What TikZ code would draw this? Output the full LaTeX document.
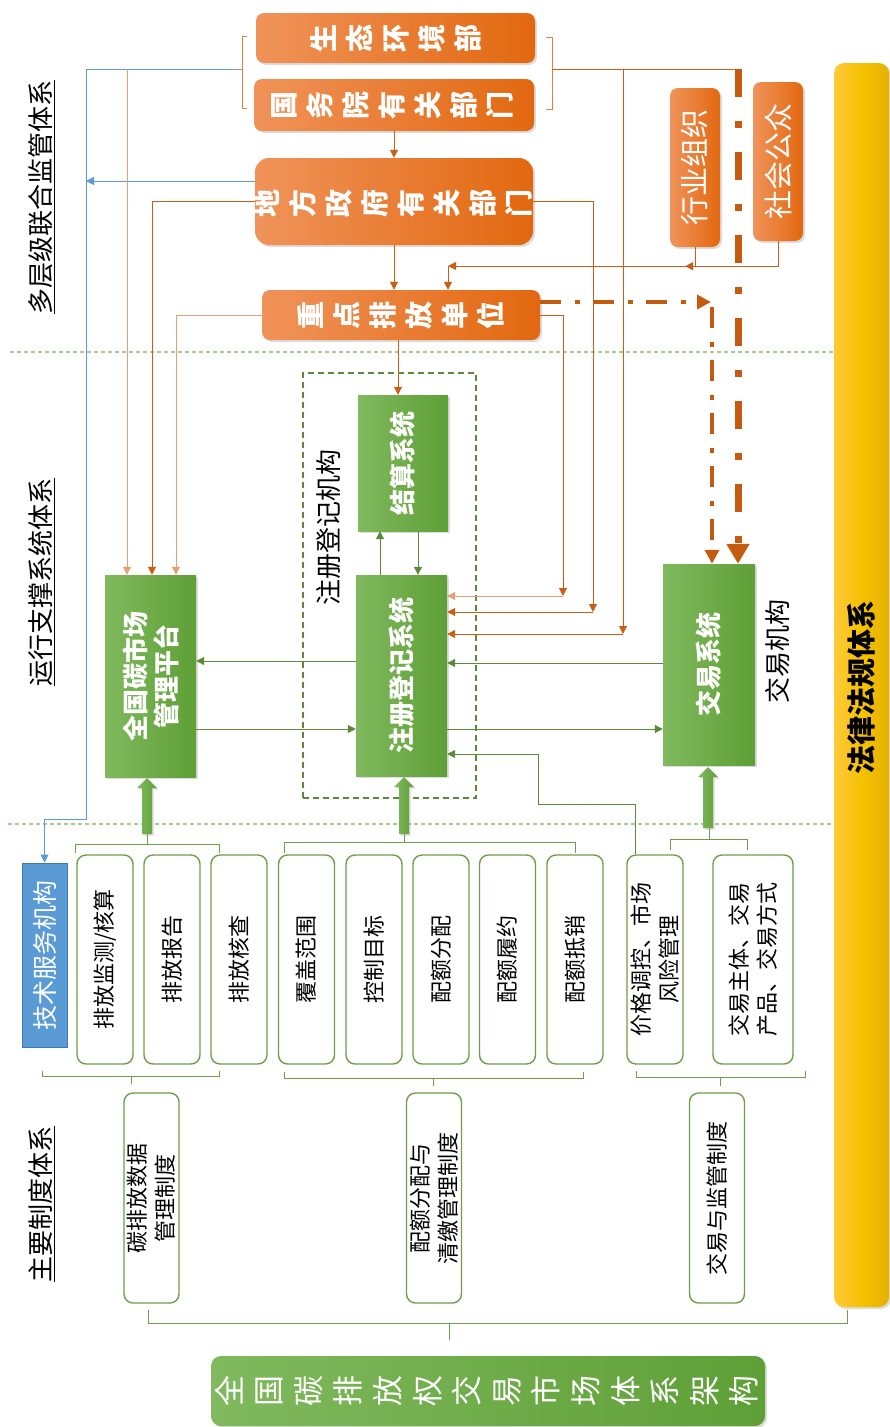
\documentclass[tikz,border=0pt]{standalone}
\usepackage{fontspec}
\setmainfont{Noto Sans CJK SC}
\usetikzlibrary{arrows.meta,shadows,calc}
\definecolor{orgL}{HTML}{F0935A}
\definecolor{orgR}{HTML}{E2680F}
\definecolor{grnL}{HTML}{80B95E}
\definecolor{grnR}{HTML}{5E9F36}
\definecolor{lnOr}{HTML}{C95F17}
\definecolor{lnOrL}{HTML}{E3A079}
\definecolor{lnBr}{HTML}{D7834A}
\definecolor{lnBl}{HTML}{5B9BD5}
\definecolor{lnGr}{HTML}{5A8A3A}
\definecolor{brGr}{HTML}{6E9E47}
\definecolor{sepGr}{HTML}{A9C993}
\definecolor{yelL}{HTML}{FFCA3A}
\definecolor{yelM}{HTML}{F6C100}
\definecolor{yelR}{HTML}{E5B100}
\definecolor{techBl}{HTML}{5B9BD5}
\definecolor{techBd}{HTML}{4178B0}
\definecolor{ddOr}{HTML}{C55A11}
\newcommand{\fs}[2]{\fontsize{#1}{#2}\selectfont}
\newcommand{\blkarrow}[3]{%
  \path[left color=grnL,right color=grnR,drop shadow={shadow xshift=1.5pt,shadow yshift=-1.5pt,opacity=0.3}]
  ({#1-5},#2) -- ({#1-5},{#3+10}) -- ({#1-10},{#3+10}) -- (#1,#3) -- ({#1+10},{#3+10}) -- ({#1+5},{#3+10}) -- ({#1+5},#2) -- cycle;}
\begin{document}
\begin{tikzpicture}[x=1pt,y=-1pt,
  shad/.style={drop shadow={shadow xshift=2pt,shadow yshift=-2pt,opacity=0.28}},
  orgbox/.style={shad,rounded corners=8pt,left color=orgL,right color=orgR,inner sep=0pt},
  grnbox/.style={shad,left color=grnL,right color=grnR,inner sep=0pt},
  wbox/.style={draw=brGr,line width=1.4pt,fill=white,rounded corners=9pt,inner sep=0pt,minimum width=56pt,minimum height=209pt},
  cbox/.style={wbox,minimum width=55pt,minimum height=210pt},
  vtxt/.style={rotate=90,inner sep=0pt,align=center},
  otxt/.style={vtxt,text=white,font=\fs{28}{36}\bfseries},
  gtxt/.style={vtxt,text=white,font=\fs{26}{31}\bfseries},
  btxt/.style={vtxt,text=black,font=\fs{22}{28}},
  sectxt/.style={vtxt,text=black,font=\fs{26}{30}},
  oln/.style={draw=lnOr,line width=1pt},
  olnL/.style={draw=lnOrL,line width=1pt},
  tip/.style={-{Triangle[length=8pt,width=8pt]}},
  oarr/.style={oln,tip},
  oarrL/.style={olnL,tip},
  garr/.style={draw=lnGr,line width=1pt,tip},
  barr/.style={draw=lnBl,line width=1pt,tip},
  brk/.style={draw=brGr,line width=1pt},
  obrk/.style={draw=lnBr,line width=1pt},
  ddA/.style={draw=ddOr,line width=4pt,dash pattern=on 21pt off 14pt on 5pt off 13pt,-{Triangle[length=14pt,width=14pt]}},
  ddB/.style={draw=ddOr,line width=7pt,dash pattern=on 28pt off 24pt on 7pt off 24pt,-{Triangle[length=20pt,width=22pt]}},
]
\useasboundingbox (0,0) rectangle (890,1427);
% separators
\draw[sepGr,line width=1.2pt,dash pattern=on 4pt off 3pt] (10,352) -- (834,352);
\draw[sepGr,line width=1.2pt,dash pattern=on 4pt off 3pt] (8,824) -- (834,824);
% law bar
\node[shad,rounded corners=10pt,left color=yelL,right color=yelR,middle color=yelM,minimum width=55pt,minimum height=1244pt,inner sep=0pt] (law) at (861.5,685) {};
\node[vtxt,font=\fs{29}{34}\bfseries] at ($(law)+(0,2)$) {法律法规体系};
% registry frame
\node[draw=lnGr,line width=1.3pt,dash pattern=on 6pt off 4pt,minimum width=173pt,minimum height=425pt,inner sep=0pt] (zcjg) at (389.5,585.5) {};
% orange boxes
\node[orgbox,minimum width=279pt,minimum height=50pt] (st) at (395.5,38) {};
\node[orgbox,minimum width=280pt,minimum height=52pt] (gw) at (394,105) {};
\node[orgbox,rounded corners=14pt,minimum width=278pt,minimum height=87pt] (df) at (394,201.5) {};
\node[orgbox,minimum width=278pt,minimum height=50pt] (zd) at (401,315) {};
\node[orgbox,minimum width=50pt,minimum height=159pt] (hy) at (695,167.5) {};
\node[orgbox,minimum width=50pt,minimum height=159pt] (sh) at (778,161.5) {};
\node[otxt] at (st) {生\\态\\环\\境\\部};
\node[otxt] at ($(gw)+(-2,0)$) {国\\务\\院\\有\\关\\部\\门};
\node[otxt] at ($(df)+(-1.5,1.5)$) {地\\方\\政\\府\\有\\关\\部\\门};
\node[otxt] at (zd) {重\\点\\排\\放\\单\\位};
\node[vtxt,text=white,font=\fs{29}{34}] at (hy) {行业组织};
\node[vtxt,text=white,font=\fs{29}{34}] at (sh) {社会公众};
% green boxes
\node[grnbox,minimum width=90pt,minimum height=136pt] (js) at (403,463) {};
\node[grnbox,minimum width=91pt,minimum height=201pt] (zc) at (401.5,675.5) {};
\node[grnbox,minimum width=91pt,minimum height=202pt] (qg) at (150.5,676) {};
\node[grnbox,minimum width=92pt,minimum height=201pt] (jy) at (709,664.5) {};
\node[gtxt] at (js) {结算系统};
\node[gtxt] at (zc) {注册登记系统};
\node[gtxt] at (qg) {全国碳市场\\管理平台};
\node[gtxt] at (jy) {交易系统};
% labels
\node[sectxt] (s1) at (42,197) {\underline{多层级联合监管体系}};
\node[sectxt] (s2) at (42,582) {\underline{运行支撑系统体系}};
\node[sectxt] (s3) at (42,1204) {\underline{主要制度体系}};
\node[sectxt] (lzc) at (329,527) {注册登记机构};
\node[sectxt] (ljy) at (778,651) {交易机构};
% tech box
\node[draw=techBd,line width=1pt,fill=techBl,minimum width=45pt,minimum height=184pt,inner sep=0pt] (tech) at (44.5,955) {};
\node[vtxt,text=white,font=\fs{25}{30}] at (tech) {技术服务机构};
% white boxes
\node[wbox] (b1) at (105,959.5) {};
\node[wbox] (b2) at (172,959.5) {};
\node[wbox] (b3) at (239,959.5) {};
\node[wbox] (b4) at (306.5,959.5) {};
\node[wbox] (b5) at (374,959.5) {};
\node[wbox] (b6) at (441,959.5) {};
\node[wbox] (b7) at (507.5,959.5) {};
\node[wbox] (b8) at (575,959.5) {};
\node[wbox] (b9) at (655,959.5) {};
\node[wbox,minimum width=80pt] (b10) at (753,959.5) {};
\node[btxt] at (b1) {排放监测/核算};
\node[btxt] at (b2) {排放报告};
\node[btxt] at (b3) {排放核查};
\node[btxt] at (b4) {覆盖范围};
\node[btxt] at (b5) {控制目标};
\node[btxt] at (b6) {配额分配};
\node[btxt] at (b7) {配额履约};
\node[btxt] at (b8) {配额抵销};
\node[btxt] at (b9) {价格调控、市场\\风险管理};
\node[btxt,align=left] at (b10) {交易主体、交易\\产品、交易方式};
\node[cbox] (c1) at (151.5,1198) {};
\node[cbox] (c2) at (434,1198) {};
\node[cbox] (c3) at (717,1198) {};
\node[btxt] at (c1) {碳排放数据\\管理制度};
\node[btxt] at (c2) {配额分配与\\清缴管理制度};
\node[btxt] at (c3) {交易与监管制度};
% title
\node[shad,rounded corners=10pt,left color=grnL,right color=grnR,minimum width=554pt,minimum height=70pt,inner sep=0pt] (ttl) at (488,1391) {};
\node[vtxt,text=white,font=\fs{31}{39.6}] at ($(ttl)+(-1.5,0)$) {全\\国\\碳\\排\\放\\权\\交\\易\\市\\场\\体\\系\\架\\构};
% coordinates
\coordinate (bl) at (236,69);
\coordinate (bv) at (86,819);
\coordinate (o1) at (127,69);
\coordinate (tr) at (738,69);
\coordinate (o3) at (623,69);
\coordinate (k1) at (563,596);
\coordinate (k2) at (593,612);
\coordinate (k3) at (623,634);
\coordinate (m1) at (448,266);
\coordinate (d1) at (711,302);
\coordinate (d2) at (712,307);
\coordinate (g2) at (538,754);
% orange braces
\draw[obrk] (247,36) -- (242,36) -- (242,108) -- (247,108) (242,69) -- (bl);
\draw[obrk] (546,37) -- (552,37) -- (552,109) -- (546,109);
\draw[oln] (552,69) -- (tr);
% blue lines
\draw[barr] (bl) -| (bv) -| (tech.north);
\path ($(df.west)+(0,-20.5)$) coordinate (dfb);
\draw[barr] (dfb) -- (dfb -| bv);
% orange vertical chain
\draw[oarr] (gw.south) -- (df.north);
\draw[oarr] (df.south) -- (df.south |- zd.north);
\path ($(js.north)+(-5,0)$) coordinate (jsn);
\draw[oarr] (jsn |- zd.south) -- (jsn);
% orange to national platform
\draw[oarrL] (o1) -- (o1 |- qg.north);
\draw[oarr] (df.west) -| ($(qg.north)+(1.5,0)$);
\draw[oarrL] (zd.west) -| ($(qg.north)+(25.5,0)$);
% orange to registry
\draw[oarr] (zd.east) -| (k1);
\draw[oarrL] (k1) -- (k1 -| zc.east);
\draw[oarr] (df.east) -| (k2);
\draw[oarr] (k2) -- (k2 -| zc.east);
\draw[oarr] (o3) -- (k3);
\draw[oarr] (k3) -- (k3 -| zc.east);
% industry / public
\draw[oarr] (hy.south) |- ++(-10,19);
\draw[oarr] (sh.south) |- (m1);
\draw[oarr] (m1) -- (m1 |- zd.north);
% dash-dot
\path ($(zd.east)+(0,-13)$) coordinate (e1);
\draw[ddA] (e1) -- (d1);
\draw[ddA] (d2) -- (d2 |- jy.north);
\draw[ddB] (tr) -- (tr |- jy.north);
% green connectors
\path ($(zc.north)+(-21.5,0)$) coordinate (u1);
\draw[garr] (u1) -- (u1 |- js.south);
\path ($(js.south)+(15,0)$) coordinate (u2);
\draw[garr] (u2) -- (u2 |- zc.north);
\path ($(zc.west)+(0,-14.5)$) coordinate (h1);
\draw[garr] (h1) -- (h1 -| qg.east);
\path ($(qg.east)+(0,53)$) coordinate (h2);
\draw[garr] (h2) -- (h2 -| zc.west);
\path ($(jy.west)+(0,-1.5)$) coordinate (h3);
\draw[garr] (h3) -- (h3 -| zc.east);
\path ($(zc.east)+(0,53.5)$) coordinate (h4);
\draw[garr] (h4) -- (h4 -| jy.west);
\path ($(b9.north)+(-20,0)$) coordinate (g0);
\draw[garr] (g0) -- ++(0,-50) -| (g2) -- (g2 -| zc.east);
% block arrows
\blkarrow{147}{834}{778}
\blkarrow{404}{834}{777}
\blkarrow{708}{828}{767}
% brackets
\draw[brk] (75,853) -- (75,844) -- (219,844) -- (219,853) (147,844) -- (147,834);
\draw[brk] (284,853) -- (284,842) -- (575,842) -- (575,853) (404,842) -- (404,834);
\draw[brk] (670,850) -- (670,839) -- (747,839) -- (747,850) (709,839) -- (709,828);
\draw[brk] (42,1071) -- (42,1076) -- (219,1076) -- (219,1071) (131,1076) -- (131,1084);
\draw[brk] (284,1072) -- (284,1078) -- (583,1078) -- (583,1072) (433,1078) -- (433,1086);
\draw[brk] (636,1071) -- (636,1077) -- (805,1077) -- (805,1071) (720,1077) -- (720,1086);
\draw[brk] (148,1310) -- (148,1323) -- (847,1323) -- (847,1310) (449,1323) -- (449,1340);
\end{tikzpicture}
\end{document}
